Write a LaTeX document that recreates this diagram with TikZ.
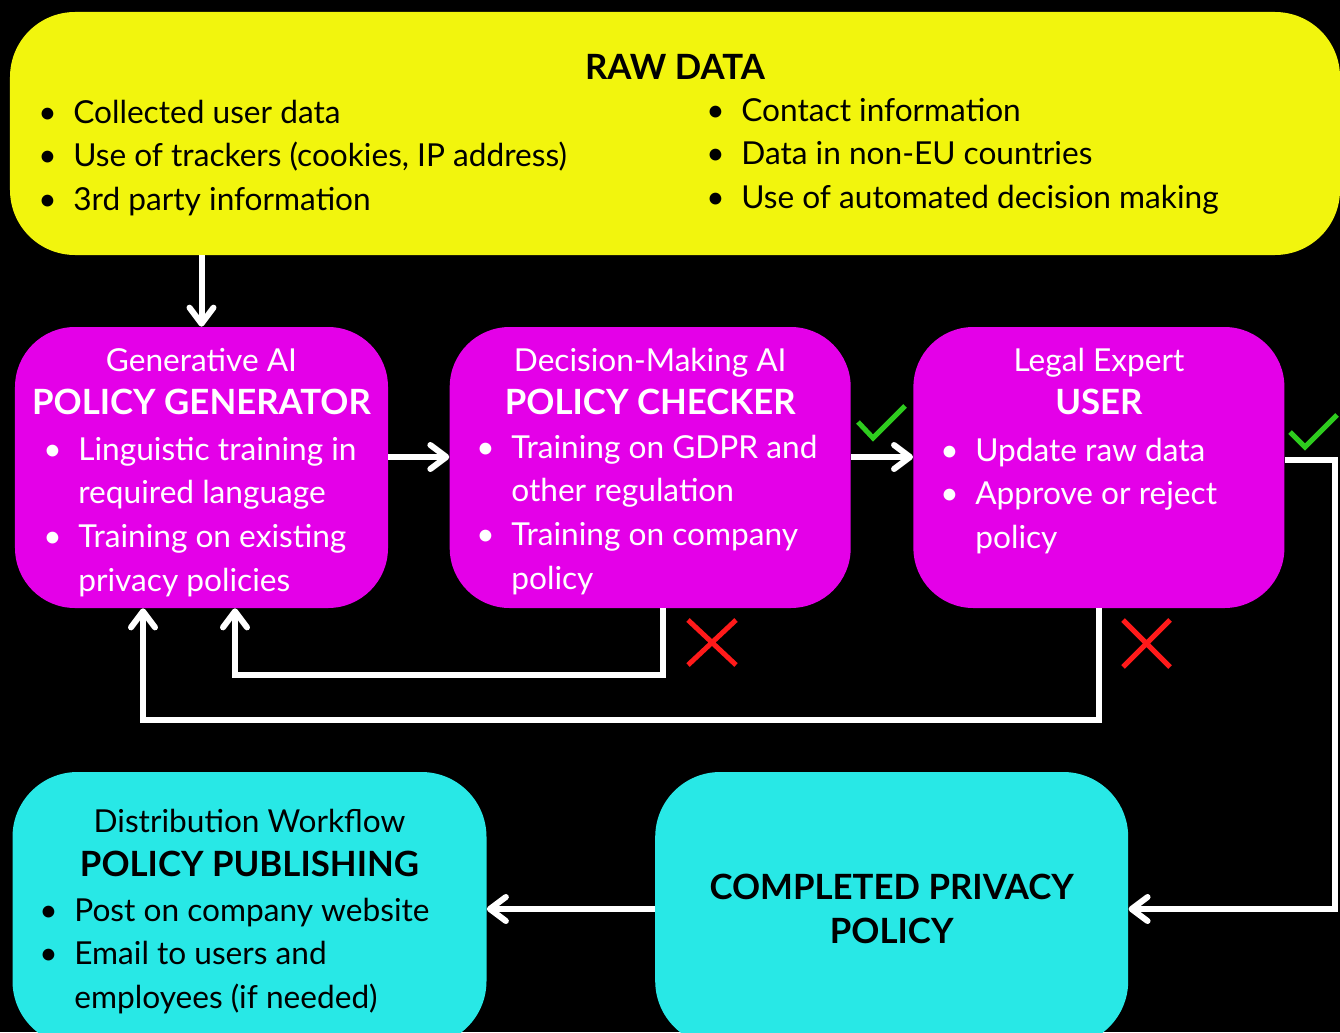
\documentclass[tikz,border=0pt]{standalone}
\usepackage{fontspec}
\setmainfont{Lato}
\usetikzlibrary{arrows.meta,positioning}
\definecolor{rawyellow}{HTML}{F2F50D}
\definecolor{aimagenta}{HTML}{E400E8}
\definecolor{outcyan}{HTML}{28E8E6}
\definecolor{okgreen}{HTML}{2ECC1E}
\definecolor{nored}{HTML}{FF1A1A}
\newcommand{\listfont}{\fontsize{18}{25}\selectfont}
\newcommand{\headfont}{\fontsize{19.8}{25}\selectfont\bfseries}
\newcommand{\bul}{\textbullet}
\tikzset{%
  >={Straight Barb[length=3.2mm,width=4.8mm,round]},
  % Specifications for style of boxes:
            base/.style = {rectangle, rounded corners=1.2cm, inner sep=0pt},
          rawbox/.style = {base, fill=rawyellow, minimum width=26.6cm,
                           minimum height=4.86cm, rounded corners=1.3cm},
           aibox/.style = {base, fill=aimagenta, minimum height=5.62cm},
          outbox/.style = {base, fill=outcyan, minimum width=9.48cm,
                           minimum height=5.48cm, rounded corners=1.3cm},
  % text inside the boxes
            head/.style = {anchor=base, inner sep=0pt, font=\headfont},
             sub/.style = {anchor=base, inner sep=0pt, font=\listfont},
           items/.style = {anchor=base west, inner sep=0pt, font=\listfont},
  % connectors and marks
            flow/.style = {draw=white, line width=1.2mm, ->},
          okmark/.style = {draw=okgreen, line width=1mm},
          nomark/.style = {draw=nored, line width=1mm},
}

\begin{document}
\begin{tikzpicture}
  \useasboundingbox (0,0) rectangle (26.8,-20.64);
  \fill[black] (0,0) rectangle (26.8,-20.64);
  \clip (0,0) rectangle (26.8,-20.64);

  % boxes
  \node (raw)  [rawbox] at (13.5,-2.67) {};
  \node (gen)  [aibox, minimum width=7.46cm] at (4.03,-9.35) {};
  \node (chk)  [aibox, minimum width=8.02cm, right=1.22cm of gen] {};
  \node (usr)  [aibox, minimum width=7.42cm, right=1.24cm of chk] {};
  \node (pub)  [outbox] at (4.99,-18.18) {};
  \node (done) [outbox, minimum width=9.46cm, right=3.36cm of pub] {};

  % raw data
  \node (rawhead) [head] at (13.5,-1.6) {RAW DATA};
  \node (rawleft) [items] at (0.76,-2.46) {\begin{tabular}[t]{@{}p{0.7cm}@{}l@{}}
    \bul & Collected user data\\ \bul & Use of trackers (cookies, IP address)\\
    \bul & 3rd party information\end{tabular}};
  \node (rawright) [items] at (14.12,-2.42) {\begin{tabular}[t]{@{}p{0.7cm}@{}l@{}}
    \bul & Contact information\\ \bul & Data in non-EU countries\\
    \bul & Use of automated decision making\end{tabular}};

  \begin{scope}[text=white]
  % policy generator
  \node (gensub)  [sub]  at ([yshift=-0.9cm]gen.north) {Generative AI};
  \node (genhead) [head] at ([yshift=-1.76cm]gen.north) {POLICY GENERATOR};
  \node (genlist) [items] at (0.86,-9.2) {\begin{tabular}[t]{@{}p{0.7cm}@{}l@{}}
    \bul & Linguistic training in\\ & required language\\
    \bul & Training on existing\\ & privacy policies\end{tabular}};
  % policy checker
  \node (chksub)  [sub]  at ([yshift=-0.9cm]chk.north) {Decision-Making AI};
  \node (chkhead) [head] at ([yshift=-1.76cm]chk.north) {POLICY CHECKER};
  \node (chklist) [items] at (9.52,-9.16) {\begin{tabular}[t]{@{}p{0.7cm}@{}l@{}}
    \bul & Training on GDPR and\\ & other regulation\\
    \bul & Training on company\\ & policy\end{tabular}};
  % legal expert
  \node (usrsub)  [sub]  at ([yshift=-0.9cm]usr.north) {Legal Expert};
  \node (usrhead) [head] at ([yshift=-1.76cm]usr.north) {USER};
  \node (usrlist) [items] at (18.8,-9.22) {\begin{tabular}[t]{@{}p{0.7cm}@{}l@{}}
    \bul & Update raw data\\ \bul & Approve or reject\\ & policy\end{tabular}};
  \end{scope}

  % outputs
  \node (donehead) [head, anchor=center, align=center] at (done.center)
    {COMPLETED PRIVACY\\POLICY};
  \node (pubsub)  [sub]  at (4.99,-16.64) {Distribution Workflow};
  \node (pubhead) [head] at (4.99,-17.52) {POLICY PUBLISHING};
  \node (publist) [items] at (0.78,-18.42) {\begin{tabular}[t]{@{}p{0.7cm}@{}l@{}}
    \bul & Post on company website\\ \bul & Email to users and\\
    & employees (if needed)\end{tabular}};

  % connectors
  \coordinate (rim) at (26.7,-9.2);
  \draw[flow] (raw.south -| gen.north) -- (gen.north);
  \draw[flow] ([yshift=0.21cm]gen.east) -- ([yshift=0.21cm]chk.west);
  \draw[flow] ([yshift=0.21cm]chk.east) -- ([yshift=0.21cm]usr.west);
  \draw[flow] (usr.east |- rim) -- (rim) |- (done.east);
  \draw[flow] ([xshift=0.25cm]chk.south) -- ++(0,-1.34) -| ([xshift=0.67cm]gen.south);
  \draw[flow] (usr.south) -- ++(0,-2.24) -| ([xshift=-1.17cm]gen.south);
  \draw[flow] (done.west) -- (pub.east);

  % approve / reject marks
  \draw[okmark] (17.16,-8.44) -- (17.46,-8.76) -- (18.1,-8.12);
  \draw[okmark] (25.8,-8.64) -- (26.1,-8.94) -- (26.74,-8.3);
  \draw[nomark] (13.76,-12.4) -- (14.72,-13.3) (13.76,-13.3) -- (14.72,-12.4);
  \draw[nomark] (22.46,-12.4) -- (23.4,-13.34) (22.46,-13.34) -- (23.4,-12.4);
\end{tikzpicture}
\end{document}
